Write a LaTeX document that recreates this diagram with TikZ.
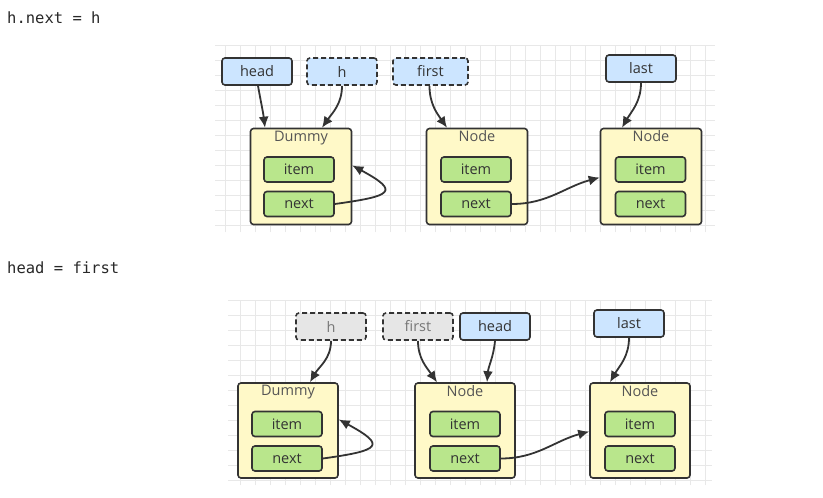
\documentclass[tikz,border=0pt]{standalone}
\usepackage{fontspec}
\usepackage{tikz}
\usetikzlibrary{arrows.meta}
\newfontfamily\boxfont{Open Sans}
\newfontfamily\codefont{DejaVu Sans Mono}
\definecolor{lineDark}{RGB}{51, 51, 51}
\definecolor{ptrBlue}{RGB}{204, 229, 255}
\definecolor{goneGrey}{RGB}{230, 230, 230}
\definecolor{nodeYellow}{RGB}{255, 249, 200}
\definecolor{fieldGreen}{RGB}{185, 230, 140}
\definecolor{gridGrey}{RGB}{232, 232, 232}
\definecolor{titleGrey}{RGB}{85, 85, 85}
\definecolor{codeGrey}{RGB}{40, 40, 40}

\tikzset{
  ptr/.style={draw=lineDark, line width=1.6pt, rounded corners=3pt, fill=ptrBlue,
    minimum width=70pt, minimum height=27pt, inner sep=0pt, text=lineDark,
    font=\boxfont\fontsize{14.5}{17}\selectfont},
  oldptr/.style={ptr, dash pattern=on 5pt off 3pt},
  goneptr/.style={oldptr, fill=goneGrey, text=titleGrey!80},
  nodebox/.style={draw=lineDark, line width=1.6pt, rounded corners=3pt, fill=nodeYellow,
    minimum width=101pt, minimum height=96pt, inner sep=0pt},
  field/.style={draw=lineDark, line width=1.6pt, rounded corners=3pt, fill=fieldGreen,
    minimum width=70pt, minimum height=25pt, inner sep=0pt, text=lineDark,
    font=\boxfont\fontsize{14.5}{17}\selectfont},
  boxtitle/.style={anchor=north, text=titleGrey, inner sep=0pt, yshift=-3pt,
    font=\boxfont\fontsize{14.5}{17}\selectfont},
  code/.style={anchor=west, inner sep=0pt, text=codeGrey,
    font=\codefont\fontsize{15.5}{18}\selectfont},
  link/.style={draw=lineDark, line width=1.8pt, -{Latex[length=11pt,width=10pt]}},
  gridline/.style={draw=gridGrey, line width=0.7pt}
}

\begin{document}
\begin{tikzpicture}[x=1pt, y=-1pt]
  \useasboundingbox[fill=white] (0,0) rectangle (823,498);

  % background grids
  \draw[gridline, xstep=15pt, ystep=15pt] (215,45) grid (715,232);
  \draw[gridline, xstep=15pt, ystep=15pt] (228,300) grid (712,485);

  % code lines
  \node[code] (codeA) at (7,18) {h.next = h};
  \node[code] (codeB) at (7,268) {head = first};

  % ---- before: h.next = h ----
  \node[ptr] (headA) at (257,71.5) {head};
  \node[oldptr] (hA) at (342,71.5) {h};
  \node[oldptr, minimum width=75pt] (firstA) at (430.5,71.5) {first};
  \node[ptr] (lastA) at (641,68.5) {last};

  \node[nodebox] (dummyA) at (301,176.5) {};
  \node[boxtitle] at (dummyA.north) {Dummy};
  \node[field] (itemA) at (299,169.5) {item};
  \node[field] (nextA) at (299,204) {next};

  \node[nodebox] (firstNodeA) at (477,176.5) {};
  \node[boxtitle] at (firstNodeA.north) {Node};
  \node[field] (itemFA) at (476,169.5) {item};
  \node[field] (nextFA) at (476,204) {next};

  \node[nodebox] (lastNodeA) at (651,176.5) {};
  \node[boxtitle] at (lastNodeA.north) {Node};
  \node[field] (itemLA) at (650.5,169.5) {item};
  \node[field] (nextLA) at (650.5,204) {next};

  \draw[link] ([xshift=1pt]headA.south) to[out=-80, in=97] ([xshift=-36pt]dummyA.north);
  \draw[link] (hA.south) to[out=-90, in=55] ([xshift=21pt]dummyA.north);
  \draw[link] ([xshift=-1pt]firstA.south) to[out=-90, in=125] ([xshift=-30pt]firstNodeA.north);
  \draw[link] (lastA.south) to[out=-90, in=60] ([xshift=-29pt]lastNodeA.north);
  \draw[link] (nextA.east) .. controls +(58,-8) and +(48,26) .. ([yshift=11pt]dummyA.east);
  \draw[link] (nextFA.east) to[out=0, in=195] ([yshift=-1pt]lastNodeA.west);

  % ---- after: head = first ----
  \node[goneptr] (hB) at (331,326.5) {h};
  \node[goneptr] (firstB) at (418,326.5) {first};
  \node[ptr] (headB) at (495,326.5) {head};
  \node[ptr] (lastB) at (629,323.5) {last};

  \node[nodebox, minimum width=100pt, minimum height=95pt] (dummyB) at (288,430.5) {};
  \node[boxtitle] at (dummyB.north) {Dummy};
  \node[field] (itemB) at (287,424) {item};
  \node[field] (nextB) at (287,458.5) {next};

  \node[nodebox, minimum width=100pt, minimum height=95pt] (firstNodeB) at (465,430.5) {};
  \node[boxtitle] at (firstNodeB.north) {Node};
  \node[field] (itemFB) at (465,424) {item};
  \node[field] (nextFB) at (465,458.5) {next};

  \node[nodebox, minimum width=100pt, minimum height=95pt] (lastNodeB) at (640,430.5) {};
  \node[boxtitle] at (lastNodeB.north) {Node};
  \node[field] (itemLB) at (640,424) {item};
  \node[field] (nextLB) at (640,458.5) {next};

  \draw[link] (hB.south) to[out=-90, in=60] ([xshift=22pt]dummyB.north);
  \draw[link] (firstB.south) to[out=-90, in=125] ([xshift=-28pt]firstNodeB.north);
  \draw[link] (headB.south) to[out=-95, in=85] ([xshift=22pt]firstNodeB.north);
  \draw[link] (lastB.south) to[out=-90, in=60] ([xshift=-30pt]lastNodeB.north);
  \draw[link] (nextB.east) .. controls +(58,-8) and +(48,26) .. ([yshift=11pt]dummyB.east);
  \draw[link] (nextFB.east) to[out=0, in=195] ([yshift=-1pt]lastNodeB.west);
\end{tikzpicture}
\end{document}
